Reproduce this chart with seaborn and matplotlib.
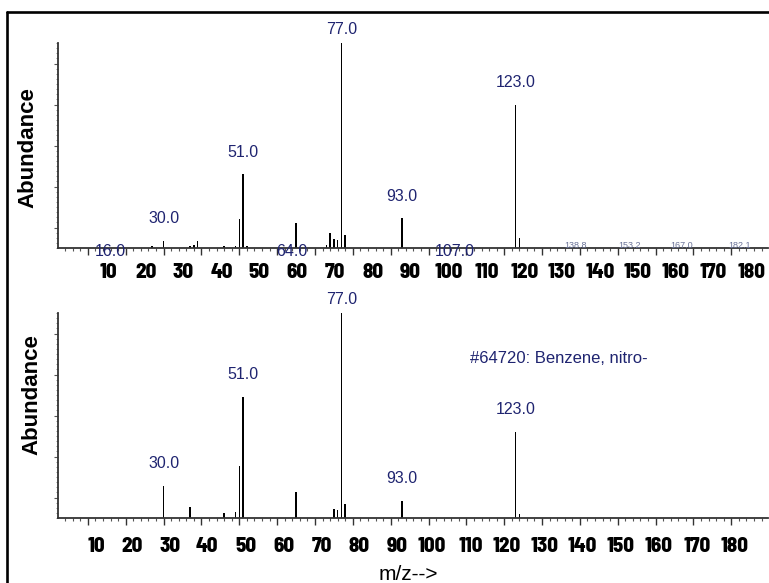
import numpy as np
import pandas as pd
import matplotlib
matplotlib.use("Agg")
import matplotlib.pyplot as plt
import seaborn as sns
from matplotlib import font_manager
from matplotlib.font_manager import FontProperties
from matplotlib.transforms import blended_transform_factory, ScaledTranslation
from matplotlib.lines import Line2D
from matplotlib.ticker import FixedLocator, MultipleLocator

# ---------------- data ----------------
sample_mz = [27, 30, 37, 38, 39, 46, 49, 50, 51, 52, 65, 73, 74, 75, 76, 77, 78, 93, 123, 124]
sample_abund = [0.8, 3.6, 0.8, 1.5, 3.6, 0.8, 1.0, 14.0, 36.0, 1.1, 12.3, 1.5, 7.5, 4.2, 4.0,
                100.0, 6.3, 14.6, 69.8, 4.7]
sample_peak_labels = [30, 51, 77, 93, 123]
sample_baseline_labels = [16.0, 64.0, 107.0]
sample_small_labels = [138.8, 153.2, 167.0, 182.1]

library_mz = [30, 37, 46, 49, 50, 51, 65, 75, 76, 77, 78, 93, 123, 124]
library_abund = [15.8, 5.5, 2.3, 3.0, 25.4, 59.2, 12.8, 4.2, 3.8, 100.0, 6.7, 8.4, 42.1, 2.0]
library_peak_labels = [30, 51, 77, 93, 123]
library_title = "#64720: Benzene, nitro-"

tick_values = list(range(10, 190, 10))
x_label = "m/z-->"
y_label = "Abundance"

# ---------------- style ----------------
sns.set_style("white")
plt.rcParams["font.family"] = ["Liberation Sans", "DejaVu Sans"]
NAVY = "#1f2470"
W, H = 769, 583
DPI = 100

fig = plt.figure(figsize=(W / DPI, H / DPI), dpi=DPI)
fig.patch.set_facecolor("white")
_r = fig.canvas.get_renderer()


def text_width(fp):
    t = fig.text(0, 0, "100", fontproperties=fp)
    w = t.get_window_extent(_r).width
    t.remove()
    return w


def pick_tick_font(target=28.5, size=15):
    """Bold sans whose digits are as narrow as the reference (Arial-Narrow-like)."""
    cands = [FontProperties(family=["Liberation Sans"], weight="bold", size=size)]
    seen = set()
    for f in font_manager.fontManager.ttflist:
        w = f.weight if isinstance(f.weight, int) else font_manager.weight_dict.get(f.weight, 400)
        st = f.stretch if isinstance(f.stretch, int) else font_manager.stretch_dict.get(f.stretch, 500)
        narrow = ("Narrow" in f.name) or ("Condensed" in f.name) or st < 500
        if not narrow or w < 600 or w > 800 or f.style != "normal":
            continue
        if "Mono" in f.name or "Serif" in f.name or f.fname in seen:
            continue
        seen.add(f.fname)
        cands.append(FontProperties(fname=f.fname, size=size))
    best, best_err = None, None
    for fp in cands:
        try:
            err = abs(text_width(fp) - target)
        except Exception:
            continue
        if best_err is None or err < best_err:
            best, best_err = fp, err
    return best


tick_fp = pick_tick_font()


def px_axes(left, top, right, bottom):
    return fig.add_axes([left / W, 1 - bottom / H, (right - left) / W, (bottom - top) / H])


ax_top = px_axes(58, 43, 768, 248)
ax_bot = px_axes(58, 313, 768, 518)

XLIM = (2.1, 189.7)


def draw_spectrum(ax, mz, ab, peak_labels):
    df = pd.DataFrame({"mz": mz, "abundance": ab})
    sns.barplot(data=df, x="mz", y="abundance", native_scale=True, width=0.4,
                color="black", saturation=1, linewidth=0, errorbar=None, ax=ax)
    ax.set_xlim(*XLIM)
    ax.set_ylim(0, 100)
    ax.set_xlabel("")
    ax.set_ylabel("")
    sns.despine(ax=ax)
    for s in ("left", "bottom"):
        ax.spines[s].set_color("#333333")
        ax.spines[s].set_linewidth(1.3)
    ax.xaxis.set_major_locator(FixedLocator(tick_values))
    ax.xaxis.set_minor_locator(MultipleLocator(2))
    ax.yaxis.set_major_locator(FixedLocator([10, 30, 50, 70, 90]))
    ax.yaxis.set_minor_locator(MultipleLocator(2.5))
    ax.tick_params(axis="x", which="major", direction="out", length=5, width=1,
                   color="#333333", labelbottom=False, bottom=True)
    ax.tick_params(axis="x", which="minor", direction="out", length=2.5, width=0.8,
                   color="#555555", bottom=True)
    ax.tick_params(axis="y", which="major", direction="out", length=3, width=0.8,
                   color="#555555", labelleft=False, left=True)
    ax.tick_params(axis="y", which="minor", direction="out", length=1.5, width=0.6,
                   color="#777777", left=True)
    lookup = dict(zip(mz, ab))
    for m in peak_labels:
        h = lookup[m]
        off = min(22, 13 + (100 - h) * 2.05)
        ax.annotate(f"{m:.1f}", xy=(m, h), xytext=(0, off), textcoords="offset pixels",
                    ha="center", va="center", fontsize=11.5, color=NAVY,
                    annotation_clip=False)


def draw_tick_labels(ax, dx, dy, ha):
    trans = blended_transform_factory(ax.transData, ax.transAxes) + \
        ScaledTranslation(dx / DPI, dy / DPI, fig.dpi_scale_trans)
    for v in tick_values:
        ax.text(v, 0, str(v), transform=trans, ha=ha, va="top",
                fontproperties=tick_fp, color="black", clip_on=False)


draw_spectrum(ax_top, sample_mz, sample_abund, sample_peak_labels)
draw_spectrum(ax_bot, library_mz, library_abund, library_peak_labels)

# baseline annotations in the upper spectrum
for v in sample_baseline_labels:
    ax_top.annotate(f"{v:.1f}", xy=(v, 0), xytext=(0, -3), textcoords="offset pixels",
                    ha="center", va="center", fontsize=11.5, color=NAVY,
                    annotation_clip=False)
for v in sample_small_labels:
    ax_top.annotate(f"{v:.1f}", xy=(v, 0), xytext=(0, 3), textcoords="offset pixels",
                    ha="center", va="center", fontsize=6.5, color="#6a7398",
                    annotation_clip=False)

draw_tick_labels(ax_top, 20, -15, "center")
draw_tick_labels(ax_bot, 17, -19, "right")

# y labels
for ax, (lx, ly) in ((ax_top, (-0.028, 0.49)), (ax_bot, (-0.0225, 0.60))):
    ax.set_ylabel(y_label, fontsize=16, fontweight="bold", color="black")
    ax.yaxis.set_label_coords(lx, ly)

ax_bot.text(0.7056, 0.78, library_title, transform=ax_bot.transAxes, ha="center",
            va="center", fontsize=12, color=NAVY)

fig.text(408 / W, 1 - 575 / H, x_label, ha="center", va="center", fontsize=15,
         color="black")

# outer frame (top and left edges visible)
fig.add_artist(Line2D([7 / W, 1.0], [1 - 12 / H, 1 - 12 / H], transform=fig.transFigure,
                      color="black", linewidth=1.9))
fig.add_artist(Line2D([7 / W, 7 / W], [0.0, 1 - 12 / H], transform=fig.transFigure,
                      color="black", linewidth=1.9))

fig.savefig("out.png", dpi=DPI, facecolor="white")
